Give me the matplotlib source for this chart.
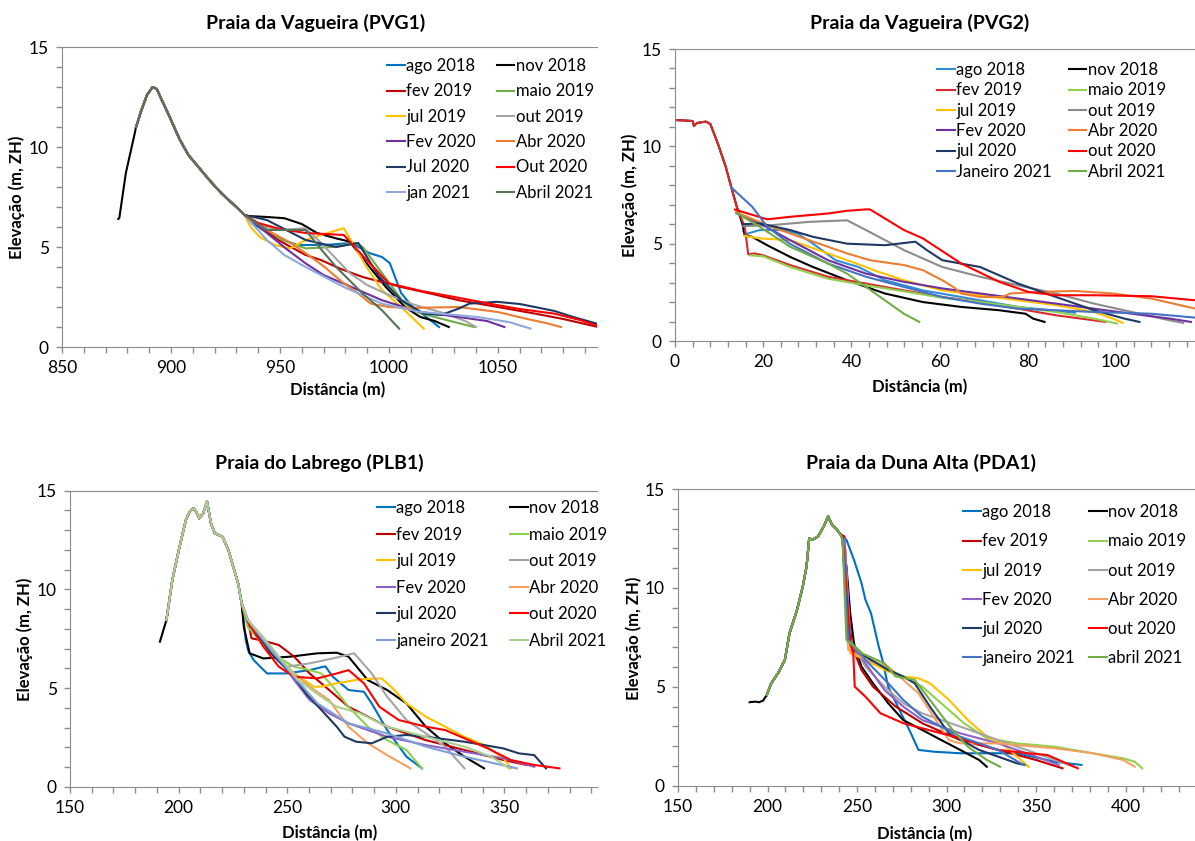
import matplotlib
matplotlib.use('Agg')
import matplotlib.pyplot as plt
from matplotlib.ticker import MultipleLocator

W, H = 1195, 841

# survey labels (legend text differs a bit between panels)
labels_pvg1 = ['ago 2018', 'nov 2018', 'fev 2019', 'maio 2019', 'jul 2019', 'out 2019',
               'Fev 2020', 'Abr 2020', 'Jul 2020', 'Out 2020', 'jan 2021', 'Abril 2021']
labels_pvg2 = ['ago 2018', 'nov 2018', 'fev 2019', 'maio 2019', 'jul 2019', 'out 2019',
               'Fev 2020', 'Abr 2020', 'jul 2020', 'out 2020', 'Janeiro 2021', 'Abril 2021']
labels_plb1 = ['ago 2018', 'nov 2018', 'fev 2019', 'maio 2019', 'jul 2019', 'out 2019',
               'Fev 2020', 'Abr 2020', 'jul 2020', 'out 2020', 'janeiro 2021', 'Abril 2021']
labels_pda1 = ['ago 2018', 'nov 2018', 'fev 2019', 'maio 2019', 'jul 2019', 'out 2019',
               'Fev 2020', 'Abr 2020', 'jul 2020', 'out 2020', 'janeiro 2021', 'abril 2021']

# ---- PVG1 ----
pvg1_dune_x = [875.8, 876.3, 879.3, 882.8, 884.0, 886.3, 889.0, 891.6, 893.5, 896.0, 899.0,
               903.9, 908.0, 912.6, 918.0, 923.0, 927.0, 930.0, 933.7]
pvg1_dune_y = [6.4, 6.45, 8.7, 10.4, 11.0, 11.8, 12.6, 13.0, 12.9, 12.3, 11.6,
               10.4, 9.6, 9.0, 8.3, 7.7, 7.3, 7.0, 6.6]
pvg1_tails = [
    [(937, 6.2), (947.7, 5.5), (958, 5.1), (970.5, 5.1), (982.8, 5.2), (986, 5.0), (991, 4.7),
     (996.8, 4.5), (1000.4, 4.2), (1005.6, 2.7), (1010.9, 2.0), (1016, 1.6), (1023, 1.0)],
    [(935.4, 6.55), (944, 6.5), (952, 6.44), (960, 6.15), (967, 5.7), (975.8, 5.43), (982, 5.27),
     (989.8, 4.18), (998.6, 3.0), (1007.4, 2.0), (1014.4, 1.5), (1021, 1.3), (1027.5, 1.0)],
    [(940, 6.1), (950, 5.3), (961.8, 4.6), (968.8, 4.35), (978, 3.9), (988, 3.5), (1005.6, 3.0),
     (1020, 2.65), (1032, 2.34), (1050, 2.0), (1067, 1.67), (1080, 1.4), (1096, 1.0)],
    [(940, 6.2), (950, 5.4), (961.8, 4.93), (974, 5.0), (984.6, 5.2), (988, 5.0), (996.8, 3.7),
     (1007, 2.2), (1014, 1.7), (1026.7, 1.34), (1039, 1.0)],
    [(936.5, 6.0), (940.7, 5.5), (947.7, 5.1), (954.7, 4.93), (961.8, 5.35), (972, 5.7),
     (979.3, 5.94), (989.8, 4.0), (996.8, 2.84), (1005.6, 2.0), (1016, 0.92)],
    [(940, 6.1), (950, 5.85), (961.8, 5.94), (968, 5.3), (975, 4.5), (982, 3.7), (990, 3.1),
     (1000, 2.6), (1012, 2.1), (1025, 1.7), (1035, 1.3), (1040, 1.0)],
    [(944, 5.7), (953, 4.9), (961.8, 4.18), (970, 3.6), (979, 3.18), (996.8, 2.34), (1014, 1.76),
     (1032, 1.5), (1045, 1.3), (1053, 1.0)],
    [(944, 5.85), (955, 5.2), (963, 4.6), (970.5, 4.0), (978, 3.3), (986, 2.67), (991.6, 2.17),
     (1000, 2.0), (1010, 1.95), (1032, 2.0), (1050, 1.75), (1063.5, 1.4), (1072, 1.2), (1079, 1.0)],
    [(944, 6.35), (952, 5.9), (961.8, 5.35), (975.8, 5.0), (986, 5.2), (995, 3.6), (1005.6, 2.34),
     (1016, 1.67), (1024, 1.6), (1032, 1.92), (1037, 2.17), (1049.5, 2.26), (1060, 2.15),
     (1067, 2.0), (1076, 1.8), (1084.6, 1.5), (1096, 1.15)],
    [(940, 6.2), (950, 5.9), (961.8, 5.7), (979.3, 5.6), (989.8, 4.35), (1000, 3.18), (1015, 2.8),
     (1030, 2.5), (1049.5, 2.1), (1060, 1.9), (1075.8, 1.67), (1088, 1.34), (1096, 1.05)],
    [(944, 5.35), (952, 4.6), (961.8, 4.0), (979.3, 3.0), (996.8, 2.17), (1014, 1.76),
     (1040.7, 1.5), (1055, 1.25), (1065, 0.92)],
    [(944, 5.85), (961.8, 5.85), (968, 5.0), (975.8, 4.0), (988, 2.67), (996.8, 1.84),
     (1004.7, 0.92)],
]
pvg1_start = [884.0, 875.8, 884.0, 884.0, 884.0, 884.0, 884.0, 884.0, 884.0, 884.0, 884.0, 884.0]

# ---- PVG2 ----
pvg2_dune_x = [0, 2, 4, 4.3, 5, 7, 8, 9.7, 11.5, 12.7]
pvg2_dune_y = [11.35, 11.33, 11.3, 11.05, 11.2, 11.27, 11.15, 10.15, 8.95, 7.95]
pvg2_tails = [
    [(15.5, 5.65), (16.2, 5.5), (19.2, 5.7), (24.4, 5.7), (27.8, 5.52), (31.3, 5.0), (36.4, 4.15),
     (41.6, 3.8), (47.6, 3.12), (56.2, 2.6), (64.9, 2.26), (77.8, 1.75), (90.7, 1.45)],
    [(14.0, 6.9), (15.3, 6.0), (15.8, 5.44), (17.5, 5.35), (20.9, 4.92), (26.1, 4.32), (31.3, 3.8),
     (39, 3.12), (47.6, 2.44), (56.2, 2.0), (64.9, 1.75), (73.5, 1.58), (79.5, 1.4), (81.2, 1.15),
     (83.8, 0.98)],
    [(14.0, 6.9), (15.8, 5.87), (16.3, 5.0), (16.6, 4.45), (18.0, 4.5), (20, 4.4), (26.1, 3.9),
     (34.7, 3.3), (43.3, 2.95), (51.9, 2.6), (60.6, 2.26), (69.2, 2.0), (77.8, 1.66), (86.4, 1.32),
     (95, 1.06), (97.6, 0.98)],
    [(17.0, 4.4), (20, 4.35), (26.1, 3.8), (34.7, 3.2), (43.3, 2.86), (51.9, 2.55), (60.6, 2.22),
     (69.2, 2.0), (77.8, 1.75), (86.4, 1.49), (95, 1.15), (100.2, 0.9)],
    [(15.8, 5.4), (19.2, 5.27), (26.1, 5.18), (34.7, 4.5), (43.3, 3.8), (45, 3.64), (51.9, 3.12),
     (60.6, 2.6), (69.2, 2.35), (77.8, 2.09), (86.4, 1.84), (95, 1.49), (99.3, 1.15), (101.5, 0.93)],
    [(15.5, 5.9), (21.8, 5.95), (30.4, 6.12), (39, 6.2), (43.3, 5.7), (51.9, 4.67), (60.6, 3.8),
     (69.2, 3.3), (77.8, 2.86), (86.4, 2.44), (95, 1.92), (103.6, 1.49), (112.2, 1.06), (115.2, 0.93)],
    [(14.0, 6.55), (19.2, 6.04), (26.1, 5.18), (34.7, 4.15), (43.3, 3.46), (51.9, 3.04), (60.6, 2.7),
     (69.2, 2.44), (77.8, 2.18), (86.4, 1.92), (95, 1.66), (103.6, 1.4), (112.2, 1.15), (117, 0.98)],
    [(14.0, 6.6), (21.8, 5.87), (30.4, 5.18), (39, 4.5), (44.2, 4.15), (51.9, 3.9), (56.2, 3.64),
     (60.6, 3.12), (63.1, 2.78), (64.9, 2.44), (69.2, 2.26), (74.3, 2.26), (76, 2.44), (82, 2.52),
     (90.7, 2.57), (99.3, 2.44), (108, 2.18), (118, 1.66)],
    [(15.5, 6.0), (19.2, 6.04), (26.1, 5.7), (31.3, 5.35), (39, 5.0), (47.6, 4.92), (54.5, 5.1),
     (57.1, 4.67), (60.6, 4.15), (69.2, 3.8), (77.8, 2.95), (86.4, 2.26), (95, 1.58), (101.9, 1.15),
     (105.3, 0.98)],
    [(13.6, 6.75), (20.9, 6.25), (26.1, 6.38), (34.7, 6.55), (39, 6.69), (43.3, 6.76), (44.2, 6.76),
     (51.9, 5.7), (56.2, 5.27), (64.9, 3.98), (73.5, 3.04), (80.1, 2.52), (86.4, 2.35), (95, 2.35),
     (108, 2.3), (118, 2.09)],
    [(12.7, 7.9), (17.5, 6.9), (20.9, 5.87), (26, 5.0), (34.7, 3.98), (43.3, 3.3), (51.9, 2.78),
     (60.6, 2.26), (69.2, 1.92), (77.8, 1.66), (86.4, 1.58), (95, 1.49), (108, 1.4), (118, 1.2)],
    [(13.8, 6.6), (19.2, 5.87), (26.1, 4.84), (34.7, 3.98), (39, 3.46), (43.3, 2.78), (47.6, 2.09),
     (51.9, 1.4), (55.4, 0.98)],
]
# only nov 2018 and fev 2019 carry the dune crest
pvg2_start = [99, 0, 0, 99, 99, 99, 99, 99, 99, 99, 99, 99]

# ---- PLB1 ----
plb1_dune_x = [191.4, 194.4, 197.1, 200.1, 203.3, 205.1, 206.9, 208.0, 209.5, 211.3, 213.1,
               214.9, 216.7, 220.2, 222.9, 225.6, 227.4, 229.0]
plb1_dune_y = [7.35, 8.45, 10.47, 12.0, 13.5, 13.94, 14.1, 13.95, 13.6, 13.85, 14.44,
               13.34, 12.84, 12.67, 12.0, 10.98, 10.3, 9.3]
plb1_tails = [
    [(229.8, 8.6), (230.9, 7.43), (232, 6.9), (234.5, 6.42), (240.7, 5.74), (249.6, 5.74),
     (260.3, 5.91), (267.5, 6.1), (271, 5.57), (278.2, 4.9), (285.3, 4.81), (288.9, 4.22),
     (296, 2.87), (304.9, 1.52), (312, 0.93)],
    [(230, 8.1), (232.7, 6.76), (239, 6.5), (251.4, 6.59), (263.9, 6.76), (272.8, 6.79),
     (278.2, 6.59), (287.1, 5.4), (296, 4.9), (304.9, 4.22), (313.8, 3.04), (322.7, 2.2),
     (331.6, 1.52), (340.6, 0.93)],
    [(231.8, 8.45), (233.6, 7.52), (240.7, 7.35), (246.1, 7.18), (253.2, 6.59), (260.3, 5.74),
     (269.3, 4.9), (278.2, 4.05), (287.1, 3.55), (296, 3.04), (304.9, 2.7), (313.8, 2.36),
     (331.6, 1.86), (349.5, 1.35), (360.2, 1.1)],
    [(231.8, 8.1), (242.5, 6.76), (253.2, 6.08), (260.3, 5.91), (265.7, 5.74), (271, 5.07),
     (278.2, 4.05), (287.1, 3.04), (296, 2.36), (304.9, 1.86), (312, 0.93)],
    [(231.8, 8.36), (242.5, 6.76), (253.2, 5.74), (262.1, 5.07), (265.7, 5.07), (272.8, 5.24),
     (283.5, 5.44), (293.3, 5.49), (297.8, 5.07), (304.9, 4.22), (313.8, 3.55), (322.7, 3.04),
     (331.6, 2.53), (340.6, 2.11), (349.5, 1.44), (353, 0.93)],
    [(231.8, 8.45), (242.5, 6.76), (249.6, 6.08), (260.3, 6.25), (271, 6.5), (280.8, 6.76),
     (288.9, 5.74), (296, 4.56), (304.9, 3.38), (313.8, 2.7), (322.7, 2.03), (331.6, 0.93)],
    [(231.8, 8.45), (242.5, 7.1), (253.2, 5.4), (260.3, 4.39), (269.3, 3.72), (278.2, 3.21),
     (287.1, 2.87), (296, 2.53), (313.8, 2.11), (331.6, 1.77), (349.5, 1.44), (363.7, 1.01)],
    [(231.8, 8.36), (242.5, 6.93), (253.2, 5.74), (260.3, 5.07), (269.3, 4.39), (278.2, 3.04),
     (287.1, 2.2), (296, 1.6), (306.7, 0.93)],
    [(231.8, 8.45), (242.5, 6.76), (253.2, 5.57), (258.6, 4.73), (265.7, 3.89), (272.8, 3.04),
     (276.4, 2.53), (281.7, 2.28), (288.9, 2.2), (296, 2.53), (304.9, 2.62), (313.8, 2.53),
     (331.6, 2.28), (349.5, 1.94), (356.6, 1.69), (363.7, 1.6), (369.1, 0.93)],
    [(231.8, 8.36), (239, 7.1), (246.1, 6.08), (253.2, 5.57), (263.9, 5.49), (272.8, 5.74),
     (278.2, 5.91), (285.3, 5.24), (292.4, 4.05), (301.3, 3.38), (313.8, 3.04), (322.7, 2.87),
     (331.6, 2.45), (342.3, 1.94), (353, 1.35), (363.7, 1.1), (375.3, 0.93)],
    [(231.8, 8.45), (242.5, 6.93), (253.2, 5.57), (263.9, 4.22), (278.2, 3.21), (296, 2.7),
     (313.8, 2.03), (331.6, 1.52), (355.7, 0.93)],
    [(231.8, 8.45), (242.5, 7.1), (255, 5.4), (265.7, 4.56), (272.8, 4.05), (283.5, 3.72),
     (296, 3.04), (313.8, 2.53), (331.6, 2.03), (344, 1.52), (352.1, 0.93)],
]
plb1_start = [192.5, 191.4, 192.5, 192.5, 192.5, 192.5, 192.5, 192.5, 192.5, 192.5, 192.5, 192.5]

# ---- PDA1 ----
pda1_dune_x = [190.0, 193.2, 195.3, 197.5, 199.6, 202.1, 205.9, 209.7, 212.3, 216.5, 219.7,
               221.8, 223.3, 225.0, 228.2, 231.4, 233.9, 236.0, 238.8, 240.9]
pda1_dune_y = [4.22, 4.25, 4.22, 4.3, 4.59, 5.18, 5.69, 6.36, 7.71, 8.89, 10.07,
               11.08, 12.52, 12.43, 12.6, 13.1, 13.62, 13.19, 12.94, 12.69]
pda1_tails = [
    [(244.1, 12.43), (248.3, 11.42), (252.5, 10.24), (254.7, 9.4), (257.8, 8.72), (262.1, 7.04),
     (264.2, 6.36), (267.4, 5.01), (273.7, 3.83), (280.1, 2.65), (284.3, 1.81), (292.8, 1.72),
     (307.6, 1.64), (339.4, 1.64), (360.6, 1.21), (375.4, 1.05)],
    [(241.9, 12.6), (244.1, 11.08), (246.2, 8.72), (248.3, 7.2), (252.5, 6.02), (258.9, 5.18),
     (267.4, 4.17), (275.8, 3.32), (286.4, 2.82), (297, 2.31), (307.6, 1.81), (318.2, 1.3),
     (322.5, 0.96)],
    [(243, 12.6), (245.1, 9.06), (247.2, 7.04), (252.5, 5.85), (258.9, 5.01), (271.6, 4.0),
     (286.4, 3.16), (307.6, 2.31), (328.8, 1.81), (350, 1.3), (364.8, 0.88)],
    [(241.9, 12.43), (245.1, 7.37), (254.7, 6.53), (265.3, 6.02), (275.8, 5.52), (286.4, 5.01),
     (297, 4.17), (309.7, 3.16), (322.5, 2.4), (339.4, 2.14), (360.6, 1.97), (381.8, 1.64),
     (398.7, 1.38), (405.1, 1.21), (409.3, 0.88)],
    [(243, 12.43), (246.2, 6.7), (254.7, 6.36), (267.4, 5.77), (275.8, 5.52), (284.3, 5.43),
     (290.7, 5.18), (301.3, 4.34), (311.9, 3.32), (322.5, 2.48), (330.9, 2.14), (339.4, 1.47),
     (345.8, 0.96)],
    [(243, 12.43), (246.2, 7.37), (254.7, 6.02), (265.3, 5.01), (275.8, 4.17), (286.4, 3.66),
     (307.6, 2.99), (328.8, 2.31), (350, 1.64), (371.2, 0.96)],
    [(243, 12.43), (246.2, 7.2), (254.7, 6.19), (265.3, 4.84), (275.8, 4.0), (286.4, 3.32),
     (307.6, 2.65), (328.8, 2.14), (350, 1.47), (362.7, 1.05)],
    [(241.9, 12.43), (245.1, 6.87), (254.7, 6.36), (267.4, 6.02), (275.8, 5.35), (284.3, 4.67),
     (292.8, 3.49), (301.3, 2.31), (307.6, 2.14), (328.8, 2.14), (360.6, 1.89), (381.8, 1.64),
     (398.7, 1.3), (405.1, 0.96)],
    [(241.9, 12.6), (244.1, 8.72), (246.2, 7.2), (254.7, 6.53), (267.4, 5.85), (275.8, 5.52),
     (282.2, 5.18), (290.7, 4.0), (301.3, 2.65), (318.2, 1.81), (328.8, 1.47), (339.4, 1.13),
     (343.6, 1.05)],
    [(241.9, 12.6), (246.2, 7.2), (247.9, 6.7), (248.7, 5.01), (254.7, 4.5), (263.1, 3.66),
     (275.8, 3.16), (286.4, 2.9), (307.6, 2.4), (328.8, 1.81), (345.8, 1.64), (356.4, 1.55),
     (373.3, 0.88)],
    [(241.9, 12.43), (245.1, 7.37), (254.7, 6.36), (267.4, 5.18), (275.8, 4.34), (286.4, 3.49),
     (307.6, 2.48), (328.8, 1.81), (341.5, 1.13), (343.6, 1.05)],
    [(241.9, 12.43), (244.1, 7.37), (252.5, 6.7), (265.3, 6.19), (271.6, 5.52), (282.2, 5.35),
     (290.7, 4.34), (303.4, 2.82), (311.9, 1.97), (322.5, 1.3), (329.9, 0.96)],
]
pda1_start = [199.6, 190.0, 199.6, 199.6, 199.6, 199.6, 199.6, 199.6, 199.6, 199.6, 199.6, 199.6]

colors_pvg1 = ['#0070C0', '#000000', '#C00000', '#70AD47', '#FFC000', '#A5A5A5',
               '#7030A0', '#ED7D31', '#1F3864', '#FF0000', '#8EA9DB', '#587158']
colors_pvg2 = ['#2E8FD6', '#000000', '#D92B2B', '#92D050', '#FFC000', '#8C8C8C',
               '#7030A0', '#ED7D31', '#1F3864', '#FF0000', '#4472C4', '#70AD47']
colors_plb1 = ['#0070C0', '#000000', '#C00000', '#8ED14F', '#FFC000', '#A5A5A5',
               '#9062C8', '#F4A060', '#1F3864', '#FF0000', '#7F9FD8', '#A9D08E']
colors_pda1 = ['#0070C0', '#000000', '#C00000', '#92D050', '#FFC000', '#A5A5A5',
               '#9062C8', '#F4A060', '#1F3864', '#FF0000', '#4472C4', '#70AD47']

plt.rcParams['font.family'] = ['Lato', 'DejaVu Sans']
fig = plt.figure(figsize=(W / 100, H / 100), dpi=100)


def fx(px):
    return px / W


def fy(py):
    return 1 - py / H


def panel(box, xlim, xmajor, xminor, labels, colors, dune_x, dune_y, starts, tails,
          title, title_pos, xlab_pos, ylab_pos, leg):
    left, top, right, bottom = box
    ax = fig.add_axes([fx(left), fy(bottom), fx(right - left), (bottom - top) / H])
    for lab, col, st, tail in zip(labels, colors, starts, tails):
        xs = [x for x in dune_x if x >= st]
        ys = [y for x, y in zip(dune_x, dune_y) if x >= st]
        xs += [p[0] for p in tail]
        ys += [p[1] for p in tail]
        ax.plot(xs, ys, color=col, lw=1.5, label=lab, solid_joinstyle='round')
    ax.set_xlim(*xlim)
    ax.set_ylim(0, 15)
    ax.set_yticks([0, 5, 10, 15])
    ax.yaxis.set_minor_locator(MultipleLocator(1))
    ax.xaxis.set_major_locator(MultipleLocator(xmajor))
    ax.xaxis.set_minor_locator(MultipleLocator(xminor))
    ax.tick_params(which='both', direction='out', length=4.5, width=1, color='#8c8c8c',
                   labelsize=12.5, pad=5)
    ax.spines['right'].set_visible(False)
    for s in ['left', 'bottom', 'top']:
        ax.spines[s].set_color('#8c8c8c')
    fig.text(fx(title_pos[0]), fy(title_pos[1]), title, ha='center', va='center',
             fontsize=14, fontweight='bold')
    fig.text(fx(xlab_pos[0]), fy(xlab_pos[1]), 'Distância (m)', ha='center', va='center',
             fontsize=12, fontweight='bold')
    fig.text(fx(ylab_pos[0]), fy(ylab_pos[1]), 'Elevação (m, ZH)', ha='center', va='center',
             fontsize=12, fontweight='bold', rotation=90)
    handles, labs = ax.get_legend_handles_labels()
    order = list(range(0, 12, 2)) + list(range(1, 12, 2))
    lx, ly, lspace, cspace = leg
    ax.legend([handles[i] for i in order], [labs[i] for i in order], ncol=2, frameon=False,
              loc='upper left', bbox_to_anchor=(fx(lx), fy(ly)), bbox_transform=fig.transFigure,
              borderpad=0, borderaxespad=0, handlelength=1.05, handletextpad=0.1,
              columnspacing=cspace, labelspacing=lspace, fontsize=12)
    return ax


panel((62, 47, 597, 347), (850, 1095.5), 50, 10, labels_pvg1, colors_pvg1,
      pvg1_dune_x, pvg1_dune_y, pvg1_start, pvg1_tails,
      'Praia da Vagueira (PVG1)', (316, 23), (338, 390), (17, 197), (387, 58, 0.56, 1.26))
panel((675, 49, 1195, 341), (0, 117.9), 20, 4, labels_pvg2, colors_pvg2,
      pvg2_dune_x, pvg2_dune_y, pvg2_start, pvg2_tails,
      'Praia da Vagueira (PVG2)', (920, 23), (920, 387), (630, 195), (937, 62, 0.26, 1.02))
panel((70, 490.7, 597, 786.7), (150, 392.6), 50, 10, labels_plb1, colors_plb1,
      plb1_dune_x, plb1_dune_y, plb1_start, plb1_tails,
      'Praia do Labrego (PLB1)', (319, 463), (330, 833), (25, 639), (377, 500.3, 0.63, 1.28))
panel((678, 489, 1195, 785.7), (150, 438.8), 50, 10, labels_pda1, colors_pda1,
      pda1_dune_x, pda1_dune_y, pda1_start, pda1_tails,
      'Praia da Duna Alta (PDA1)', (921, 463), (925, 834), (634, 638), (963, 504.3, 0.79, 0.86))

fig.savefig('out.png', dpi=100)
